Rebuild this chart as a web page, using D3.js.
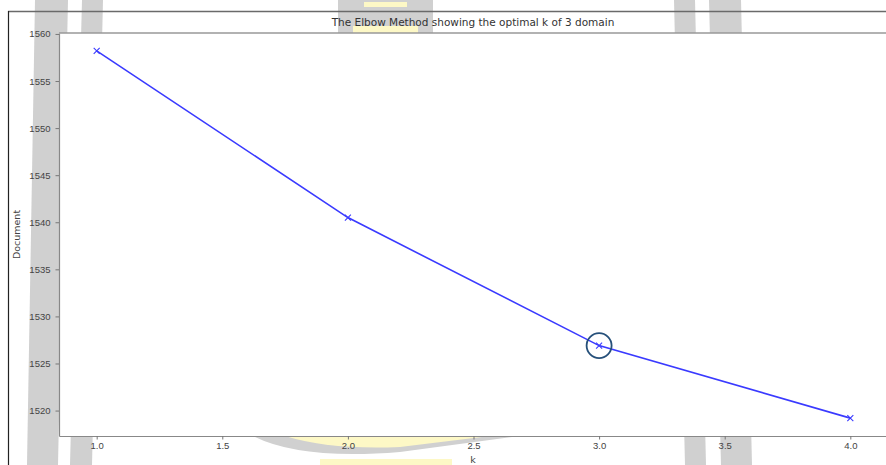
<!DOCTYPE html>
<html>
<head>
<meta charset="utf-8">
<script src="https://cdn.jsdelivr.net/npm/d3@7"></script>
<style>
  html, body { margin: 0; padding: 0; background: #fff; overflow: hidden; }
  svg { display: block; font-family: "DejaVu Sans", sans-serif; }
  .tick text { fill: #444; }
</style>
</head>
<body>
<div id="vis"></div>
<script>
/* chart data */
const kValues     = [1, 2, 3, 4];
const distortions = [1558.2, 1540.5, 1526.9, 1519.2];
const xTicks      = [1.0, 1.5, 2.0, 2.5, 3.0, 3.5, 4.0];
const yTicks      = [1520, 1525, 1530, 1535, 1540, 1545, 1550, 1555, 1560];
const elbowK      = 3;
const titleText   = "The Elbow Method showing the optimal k of 3 domain";
const xLabel      = "k";
const yLabel      = "Document";

const W = 886, H = 465;
const plot = {left: 59, top: 33, right: 888, bottom: 436};

const svg = d3.select("#vis").append("svg")
    .attr("width", W).attr("height", H);

/* faint watermark shapes behind the figure */
const wm = svg.append("g");
const grey = "#d0d0d0", yellow = "#fdf8c6";
[
  [[35,0],[68,0],[58,465],[27,465]],
  [[82,0],[103,0],[92,465],[70,465]],
  [[674,0],[695,0],[706,465],[685,465]],
  [[709,0],[741,0],[752,465],[721,465]],
  [[338,0],[433,0],[433,33],[338,33]]
].forEach(p => wm.append("polygon").attr("points", p.join(" ")).attr("fill", grey));
wm.append("rect").attr("x",364).attr("y",2).attr("width",43).attr("height",5).attr("fill",yellow);
wm.append("rect").attr("x",353).attr("y",26).attr("width",65).attr("height",7).attr("fill",yellow);
wm.append("path")
    .attr("d","M253,436 Q300,460 400,452 L520,436 Z")
    .attr("fill", grey);
wm.append("path")
    .attr("d","M285,436 Q330,450 400,447 L490,436 Z")
    .attr("fill", yellow);
wm.append("rect").attr("x",320).attr("y",459).attr("width",132).attr("height",6).attr("fill",yellow);

/* outer frame */
svg.append("line").attr("x1",8).attr("x2",W).attr("y1",11.5).attr("y2",11.5)
    .attr("stroke","#6a6a6a").attr("stroke-width",1.5);
svg.append("line").attr("x1",8.5).attr("x2",8.5).attr("y1",11).attr("y2",H)
    .attr("stroke","#222").attr("stroke-width",1.2);

/* axes background */
svg.append("rect")
    .attr("x", plot.left).attr("y", plot.top)
    .attr("width", plot.right - plot.left).attr("height", plot.bottom - plot.top)
    .attr("fill", "#fff");

const x = d3.scaleLinear().domain([0.85, 4.15]).range([plot.left, plot.right]);
const y = d3.scaleLinear().domain([1517.3, 1560.1]).range([plot.bottom, plot.top]);

/* axes */
const xAxis = svg.append("g")
    .attr("transform", `translate(0,${plot.bottom})`)
    .call(d3.axisBottom(x).tickValues(xTicks).tickFormat(d3.format(".1f"))
      .tickSize(3.5).tickPadding(3).tickSizeOuter(0));
const yAxis = svg.append("g")
    .attr("transform", `translate(${plot.left},0)`)
    .call(d3.axisLeft(y).tickValues(yTicks).tickFormat(d3.format("d"))
      .tickSize(3.5).tickPadding(5).tickSizeOuter(0));
[xAxis, yAxis].forEach(a => {
  a.selectAll("text").attr("font-size", 9.5);
  a.selectAll(".tick line").attr("stroke", "#777");
  a.select(".domain").attr("stroke", "#888").attr("stroke-width", 1.2);
});
svg.append("line").attr("x1",plot.left).attr("x2",W).attr("y1",plot.top).attr("y2",plot.top)
    .attr("stroke","#999").attr("stroke-width",1.5);

/* title and labels */
svg.append("text").attr("x", 473).attr("y", 26)
    .attr("text-anchor","middle").attr("font-size", 10.5).attr("fill","#333")
    .text(titleText);
svg.append("text").attr("x", 473).attr("y", 463)
    .attr("text-anchor","middle").attr("font-size", 9.5).attr("fill","#444")
    .text(xLabel);
svg.append("text")
    .attr("transform", `translate(20,${(plot.top + plot.bottom) / 2}) rotate(-90)`)
    .attr("text-anchor","middle").attr("font-size", 9.5).attr("fill","#444")
    .text(yLabel);

/* line + markers */
const pts = kValues.map((k, i) => [k, distortions[i]]);
svg.append("path")
    .datum(pts)
    .attr("fill","none").attr("stroke","#3a3aff").attr("stroke-width",1.6)
    .attr("d", d3.line().x(d => x(d[0])).y(d => y(d[1])));

const m = 3;
svg.append("g").selectAll("path.marker").data(pts).join("path")
    .attr("class","marker")
    .attr("d", d => {
      const cx = x(d[0]), cy = y(d[1]);
      return `M${cx-m},${cy-m}L${cx+m},${cy+m}M${cx-m},${cy+m}L${cx+m},${cy-m}`;
    })
    .attr("stroke","#3a3aff").attr("stroke-width",1.1);

/* elbow highlight */
svg.append("circle")
    .attr("cx", x(elbowK)).attr("cy", y(distortions[kValues.indexOf(elbowK)]))
    .attr("r", 12.5)
    .attr("fill","none").attr("stroke","#26507a").attr("stroke-width",1.8);
</script>
</body>
</html>
